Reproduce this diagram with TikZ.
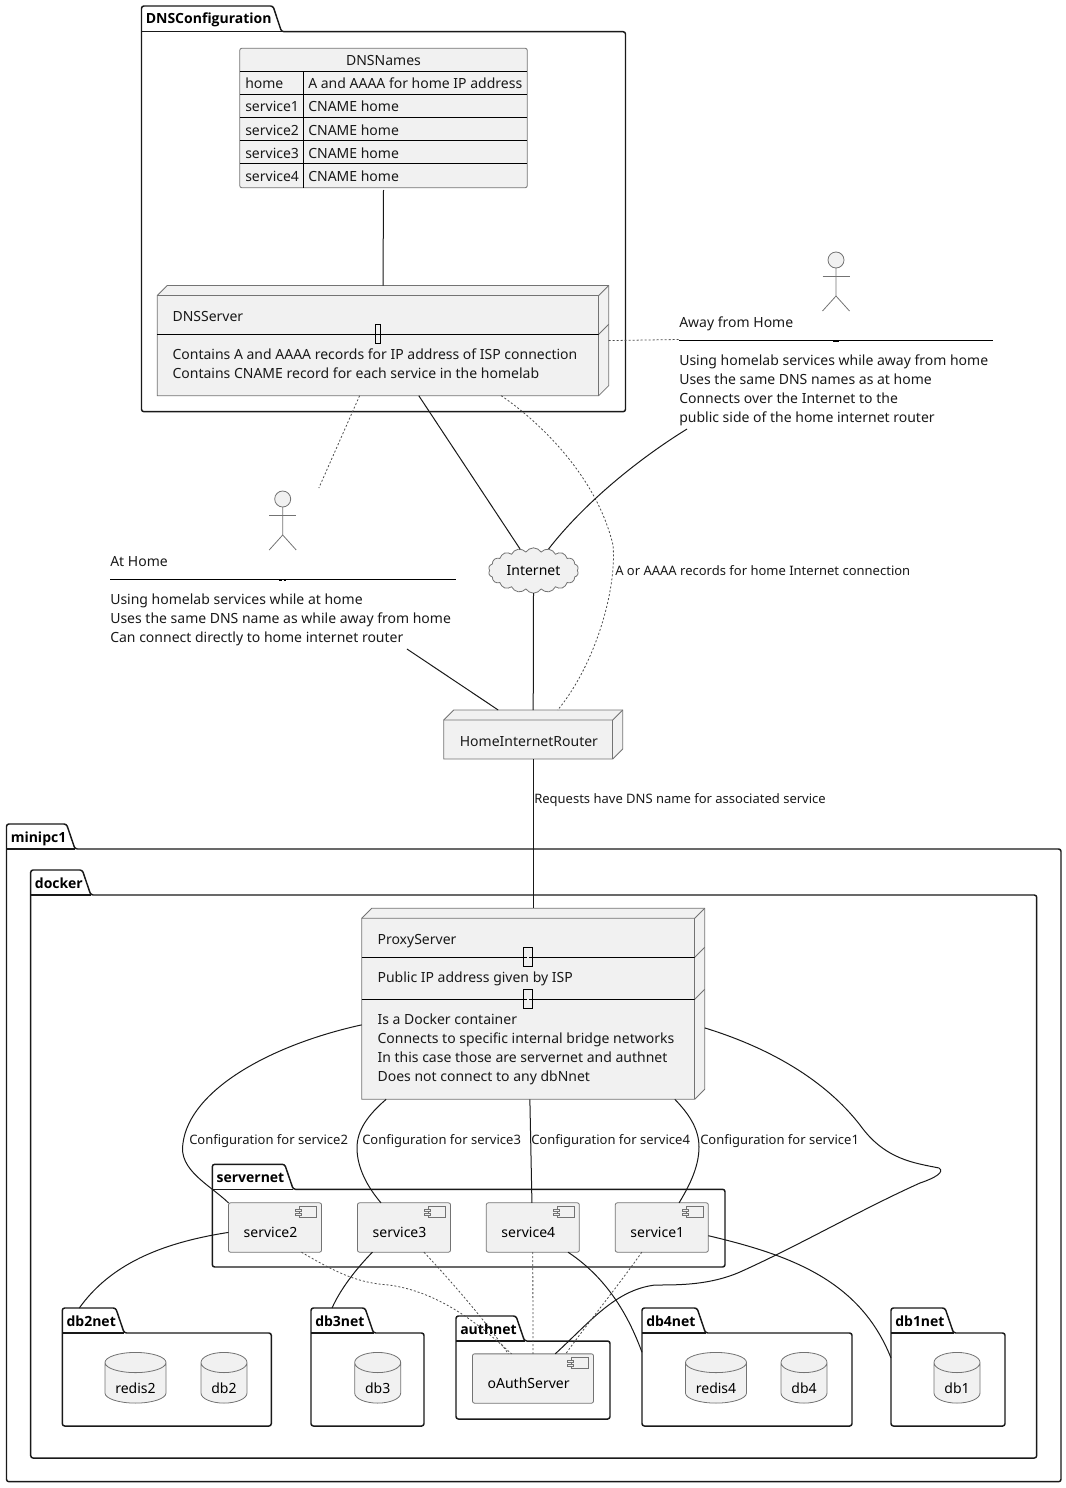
\documentclass[tikz,border=0pt]{standalone}
\usepackage{fontspec}
\setmainfont{Noto Sans}
\newfontfamily\pkgfont{Open Sans}
\usepackage{tikz}
\usetikzlibrary{positioning}
\usetikzlibrary{fit}
\usetikzlibrary{shapes.geometric}
\usetikzlibrary{shapes.symbols}
\definecolor{boxfill}{HTML}{F1F1F1}

% name, left, tab top, body top, right, bottom, tab width
\newcommand{\pkgbox}[7]{
    \draw[pkgline] (#2,#4) -- (#2,#3) -- (#2+#7,#3) -- (#2+#7+8.5,#4) -- (#5,#4) -- (#5,#6) -- (#2,#6) -- cycle;
    \draw[pkgline] (#2,#4) -- (#2+#7+8.5,#4);
    \node[boxfit, fit={(#2,#3) (#5,#6)}] (#1) {};
    \node[pkgtext] (#1title) at (#2+4,#3+18) {#1};
}
% name, left, top, right, bottom
\newcommand{\serverbox}[5]{
    \draw[boxline, fill=boxfill] (#2,#3+10) -- (#2+10,#3) -- (#4,#3) -- (#4,#5-10) -- (#4-10,#5) -- (#2,#5) -- cycle;
    \draw[boxline] (#2,#3+10) -- (#4-10,#3+10) -- (#4,#3);
    \draw[boxline] (#4-10,#3+10) -- (#4-10,#5);
    \node[boxfit, fit={(#2,#3) (#4,#5)}] (#1) {};
}
% head centre x, y
\newcommand{\stickman}[2]{
    \draw[boxline, fill=boxfill] (#1,#2) circle (8);
    \draw[boxline] (#1,#2+8) -- (#1,#2+36) -- (#1-13.5,#2+51);
    \draw[boxline] (#1,#2+36) -- (#1+13.5,#2+51);
    \draw[boxline] (#1-13.5,#2+16) -- (#1+13.5,#2+16);
}

\begin{document}
\begin{tikzpicture}[x=0.75pt, y=-0.75pt,
    boxline/.style={draw=black!55, line width=0.6pt},
    pkgline/.style={draw=black!90, line width=1.1pt, rounded corners=1.8pt},
    boxfit/.style={inner sep=0pt, outer sep=0pt},
    bodytext/.style={font=\fontsize{10.5}{14.25}\selectfont, text=black!90, anchor=base west, inner sep=0pt, align=left},
    pkgtext/.style={font=\fontsize{10.5}{14.25}\selectfont\pkgfont\bfseries, text=black, anchor=base west, inner sep=0pt},
    edgetext/.style={font=\fontsize{9.75}{12}\selectfont, text=black!90, anchor=base west, inner sep=0pt},
    conn/.style={draw=black!90, line width=0.75pt},
    dots/.style={draw=black!70, line width=0.6pt, dash pattern=on 1.5pt off 1.5pt},
    compnode/.style={draw=black!55, line width=0.6pt, fill=boxfill, rounded corners=1.5pt, outer sep=0pt, minimum width=69.8pt, minimum height=37pt, inner xsep=11.25pt, inner ysep=0pt, text width=47pt, align=left, text height=25.5pt, text depth=11.25pt, font=\fontsize{10.5}{14.25}\selectfont},
    dbnode/.style={cylinder, shape border rotate=90, draw=black!55, line width=0.6pt, fill=boxfill, outer sep=0pt, inner sep=0pt, text height=15pt, text depth=-1.5pt, font=\fontsize{10.5}{14.25}\selectfont},
    cloudnode/.style={cloud, cloud puffs=18, cloud puff arc=115, aspect=2, draw=black!55, line width=0.6pt, fill=boxfill, inner sep=0pt, outer sep=0pt, minimum width=67.5pt, minimum height=34pt, font=\fontsize{10.5}{14.25}\selectfont},
    sepline/.style={draw=black, line width=0.75pt},
    sepmark/.style={draw=black, line width=0.6pt, fill=boxfill}]
    \useasboundingbox (0,0) rectangle (1066,1488);

    % packages
    \pkgbox{DNSConfiguration}{141.5}{6}{31.7}{625.5}{411.7}{131.5}
    \pkgbox{minipc1}{6.5}{824}{849}{1061}{1481.7}{60}
    \pkgbox{docker}{30.7}{870}{895}{1036.7}{1458}{51.6}
    \pkgbox{servernet}{212.3}{1164.3}{1189.3}{725}{1267}{72.4}
    \pkgbox{authnet}{456}{1316}{1341}{610}{1419}{60}
    \pkgbox{db2net}{62.3}{1308}{1333}{271.3}{1426}{53.4}
    \pkgbox{db3net}{311}{1308}{1333}{424}{1426}{54}
    \pkgbox{db4net}{642}{1308}{1333}{852}{1426}{55}
    \pkgbox{db1net}{891}{1308}{1333}{1005}{1426}{54}

    % dns name table
    \node[boxline, fill=boxfill, rounded corners=1.5pt, outer sep=0pt, inner sep=0pt, minimum width=215.6pt, minimum height=104.6pt] (dnsnames) at (383.5,118) {};
    \node[bodytext, anchor=base] (dnsnamestitle) at (383.5,66) {DNSNames};
    \foreach \rowy/\rowname/\rowtext [count=\i] in {71.3/home/A and AAAA for home IP address, 94.3/service1/CNAME home, 117.3/service2/CNAME home, 140.3/service3/CNAME home, 163.3/service4/CNAME home}{
        \draw[sepline] (dnsnames.west |- 0,\rowy) -- (dnsnames.east |- 0,\rowy);
        \node[bodytext] (namecell\i) at (245,\rowy+17.7) {\rowname};
        \node[bodytext] (recordcell\i) at (308,\rowy+17.7) {\rowtext};
    }
    \draw[sepline] (303.3,71.3) -- (303.3,187.7);

    % servers
    \serverbox{dnsserver}{157.3}{285.5}{608.7}{395.7}
    \draw[sepline] (157.3,334.3) -- (598.7,334.3);
    \draw[boxline] (598.7,334.3) -- (608.7,324.3);
    \draw[sepmark] (375,324.5) rectangle (380.7,343);
    \draw[sepline] (375.5,334.3) -- (380.2,334.3);
    \node[bodytext] (dnsservertitle) at (172.3,321) {DNSServer};
    \node[bodytext] (dnsservertext) at (172.3,378) {Contains A and AAAA records for IP address of ISP connection\\Contains CNAME record for each service in the homelab};

    \serverbox{router}{443.7}{710}{622.7}{759}
    \node[bodytext] (routertext) at (459.6,746) {HomeInternetRouter};

    \serverbox{proxy}{361.7}{908.3}{704.7}{1099.3}
    \draw[sepline] (361.7,957.3) -- (694.7,957.3);
    \draw[boxline] (694.7,957.3) -- (704.7,947.3);
    \draw[sepline] (361.7,999.3) -- (694.7,999.3);
    \draw[boxline] (694.7,999.3) -- (704.7,989.3);
    \foreach \sepy in {957.3,999.3}{
        \draw[sepmark] (523.3,\sepy-10) rectangle (532.7,\sepy+9);
        \draw[draw=black, line width=0.6pt, dash pattern=on 2.5pt off 1.5pt] (524,\sepy) -- (532,\sepy);
    }
    \node[bodytext] (proxytitle) at (377.3,944) {ProxyServer};
    \node[bodytext] (proxyaddress) at (377.3,982) {Public IP address given by ISP};
    \node[bodytext] (proxytext) at (377.3,1081) {Is a Docker container\\Connects to specific internal bridge networks\\In this case those are servernet and authnet\\Does not connect to any dbNnet};

    % people
    \stickman{282.7}{499}
    \node[boxfit, fit={(110,488) (456,649)}] (athome) {};
    \node[bodytext] (athometitle) at (110,566) {At Home};
    \draw[sepline] (110,579) -- (456,579);
    \draw[draw=black, line width=0.6pt, dash pattern=on 2pt off 1.5pt] (279,580.5) -- (286,580.5);
    \node[bodytext] (athometext) at (110,642) {Using homelab services while at home\\Uses the same DNS name as while away from home\\Can connect directly to home internet router};

    \stickman{836}{260}
    \node[boxfit, fit={(679,250) (993,429)}] (away) {};
    \node[bodytext] (awaytitle) at (679,327) {Away from Home};
    \draw[sepline] (679,340) -- (993,340);
    \draw[draw=black, line width=1pt] (833,341) -- (839,341);
    \node[bodytext] (awaytext) at (679,422) {Using homelab services while away from home\\Uses the same DNS names as at home\\Connects over the Internet to the\\public side of the home internet router};

    \node[cloudnode] (internet) at (533.5,570.5) {Internet};

    % services and databases
    \node[compnode] (service2) at (275,1227.5) {service2};
    \node[compnode] (service3) at (404,1227.5) {service3};
    \node[compnode] (service4) at (532.8,1227.5) {service4};
    \node[compnode] (service1) at (661.8,1227.5) {service1};
    \node[compnode, minimum width=90.75pt, text width=68pt] (oauth) at (533,1378.5) {oAuthServer};
    \foreach \c in {service2,service3,service4,service1,oauth}{
        \begin{scope}[shift={(\c.north east)}]
            \draw[boxline, fill=boxfill] (-22,4) rectangle (-5,15);
            \draw[boxline, fill=boxfill] (-26,6.5) rectangle (-20,9);
            \draw[boxline, fill=boxfill] (-26,10.5) rectangle (-20,13);
        \end{scope}
    }
    \node[dbnode, minimum width=45.75pt, aspect=0.5] (redis2) at (135.5,1383) {redis2};
    \node[dbnode, minimum width=34.5pt, aspect=0.8] (db2) at (224,1383) {db2};
    \node[dbnode, minimum width=34.5pt, aspect=0.8] (db3) at (377.7,1383) {db3};
    \node[dbnode, minimum width=45.75pt, aspect=0.5] (redis4) at (716,1383) {redis4};
    \node[dbnode, minimum width=34.5pt, aspect=0.8] (db4) at (804,1383) {db4};
    \node[dbnode, minimum width=34.5pt, aspect=0.8] (db1) at (957,1383) {db1};

    % connectors
    \draw[conn] (dnsnames.south |- 0,190) -- (dnsserver.north);
    \draw[dots] (dnsserver.east) -- (away.west);
    \draw[dots] (dnsserver.-113.5) -- (athome.66.5);
    \draw[conn] (dnsserver.-57.6) -- (internet.122);
    \draw[dots] (dnsserver.-25.6) .. controls (530,415) and (595,470) .. (613,545) .. controls (617,590) and (595,665) .. (router.45.8);
    \draw[conn] (away.-149.7) .. controls (640,458) and (585,502) .. (internet.55);
    \draw[conn] (internet.south) -- (router.north);
    \draw[conn] (athome.-33.8) -- (router.145.9);
    \draw[conn] (router.south) -- (proxy.north);

    \draw[conn] (proxy.-173) .. controls (270,1045) and (190,1090) .. (183,1143) .. controls (178,1170) and (210,1185) .. (service2.north west);
    \draw[conn] (proxy.-147.8) .. controls (368,1115) and (357,1130) .. (357,1148) .. controls (357,1170) and (370,1190) .. (service3.133);
    \draw[conn] (proxy.-92.5) -- (service4.92);
    \draw[conn] (proxy.-34) .. controls (688,1113) and (699,1128) .. (699,1147) .. controls (699,1168) and (688,1188) .. (service1.55.3);
    \draw[conn] (proxy.-8.4) .. controls (770,1048) and (825,1080) .. (860,1125) .. controls (885,1160) and (915,1163) .. (939,1168) .. controls (945,1172) and (935,1178) .. (920,1183) .. controls (860,1210) and (800,1245) .. (740,1272) .. controls (710,1285) and (680,1285) .. (655,1285) .. controls (615,1290) and (590,1322) .. (oauth.48.6);

    \draw[conn] (service2.-174.5) .. controls (160,1243) and (110,1265) .. (db2net.146.2);
    \draw[conn] (service3.-142.2) .. controls (355,1270) and (340,1290) .. (db3net.121.7);
    \draw[conn] (service4.-35.5) .. controls (610,1280) and (630,1320) .. (db4net.172.4);
    \draw[conn] (service1.-10.4) .. controls (790,1255) and (860,1280) .. (db1net.171);

    \draw[dots] (service2.-43.6) .. controls (340,1275) and (360,1283) .. (389,1285) .. controls (440,1292) and (480,1325) .. (oauth.131.3);
    \draw[dots] (service3.-51) .. controls (450,1280) and (485,1320) .. (oauth.135.6);
    \draw[dots] (service4.south) -- (oauth.north);
    \draw[dots] (service1.-129) .. controls (615,1290) and (590,1320) .. (oauth.37.4);

    % connector labels
    \node[edgetext] (recordslabel) at (615,575) {A or AAAA records for home Internet connection};
    \node[edgetext] (requestslabel) at (534,803.5) {Requests have DNS name for associated service};
    \node[edgetext] (configlabel2) at (189,1144) {Configuration for service2};
    \node[edgetext] (configlabel3) at (362,1144) {Configuration for service3};
    \node[edgetext] (configlabel4) at (531,1144) {Configuration for service4};
    \node[edgetext] (configlabel1) at (700,1144) {Configuration for service1};
\end{tikzpicture}
\end{document}
